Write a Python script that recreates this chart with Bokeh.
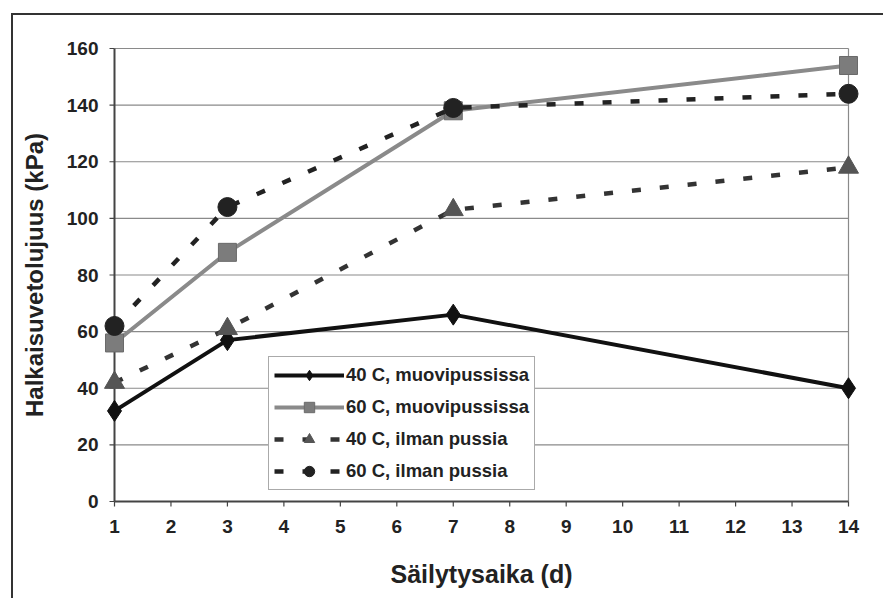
import math
from bokeh.plotting import figure
from bokeh.models import Legend, LegendItem, BoxAnnotation, FixedTicker
from bokeh.embed import file_html
from bokeh.resources import INLINE

# storage time (days) and splitting tensile strength (kPa)
days = [1, 3, 7, 14]
t40_bag = [32, 57, 66, 40]
t60_bag = [56, 88, 138, 154]
t40_nobag = [42, 61, 103, 118]
t60_nobag = [62, 104, 139, 144]

labels = ["40 C, muovipussissa", "60 C, muovipussissa",
          "40 C, ilman pussia", "60 C, ilman pussia"]
x_ticks = list(range(1, 15))
y_ticks = list(range(0, 161, 20))

FONT = "Liberation Sans"
TXT = "#222222"
AXC = "#444444"
GRIDC = "#8a8a8a"
X0, X1 = 1, 14
Y0, Y1 = 0, 160

# the plotting frame is a little larger than the data area so that end
# markers are not cut off; axis lines and tick marks are drawn at x=1 / y=0,
# the Bokeh axes only supply the tick labels and titles
PAD = 12
FRAME_L, FRAME_R, FRAME_T, FRAME_B = 114 - PAD, 848 + PAD, 48 - PAD, 501 + PAD
W, H = 883, 598
xs = (848 - 114) / (X1 - X0)
ys = (501 - 48) / (Y1 - Y0)
TICK = 5

p = figure(width=W, height=H,
           x_range=(X0 - PAD / xs, X1 + PAD / xs),
           y_range=(Y0 - PAD / ys, Y1 + PAD / ys),
           output_backend="svg", toolbar_location=None,
           min_border_left=FRAME_L, min_border_right=W - FRAME_R,
           min_border_top=FRAME_T, min_border_bottom=H - FRAME_B)
p.background_fill_color = "white"
p.border_fill_alpha = 0
# outer chart border (top and left edges) painted behind the canvas
p.styles = {
    "background": ("linear-gradient(#333333, #333333) 11px 13px / 2px 100% no-repeat, "
                   "linear-gradient(#333333, #333333) 11px 13px / 100% 2px no-repeat, "
                   "white"),
}
p.outline_line_color = None
p.xgrid.grid_line_color = None
p.ygrid.grid_line_color = None

for ax in (p.xaxis, p.yaxis):
    ax.axis_line_color = None
    ax.major_tick_line_color = None
    ax.minor_tick_line_color = None
    ax.major_tick_out = 0
    ax.major_tick_in = 0
    ax.major_label_text_font = FONT
    ax.major_label_text_font_style = "bold"
    ax.major_label_text_font_size = "19px"
    ax.major_label_text_color = TXT
    ax.axis_label_text_font = FONT
    ax.axis_label_text_font_style = "bold"
    ax.axis_label_text_color = TXT

p.xaxis.ticker = FixedTicker(ticks=x_ticks)
p.yaxis.ticker = FixedTicker(ticks=y_ticks)
p.xaxis.major_label_standoff = 6
p.yaxis.major_label_standoff = 4
p.xaxis.axis_label = "Säilytysaika (d)"
p.yaxis.axis_label = "Halkaisuvetolujuus (kPa)"
p.xaxis.axis_label_text_font_size = "25px"
p.yaxis.axis_label_text_font_size = "24px"
p.xaxis.axis_label_standoff = 24
p.yaxis.axis_label_standoff = 16

# horizontal gridlines, top edge and right edge of the plot area
grid_y = [t for t in y_ticks if t > Y0]
p.segment(x0=[X0] * len(grid_y), x1=[X1] * len(grid_y), y0=grid_y, y1=grid_y,
          line_color=GRIDC, line_width=1.2)
p.segment(x0=[X1], x1=[X1], y0=[Y0], y1=[Y1], line_color=GRIDC, line_width=1.2)

# axis lines and outward tick marks
p.segment(x0=[X0, X0], x1=[X1, X0], y0=[Y0, Y0], y1=[Y0, Y1],
          line_color=AXC, line_width=2)
p.segment(x0=[X0 - TICK / xs] * len(y_ticks), x1=[X0] * len(y_ticks),
          y0=y_ticks, y1=y_ticks, line_color=AXC, line_width=1.2)
p.segment(x0=x_ticks, x1=x_ticks, y0=[Y0 - TICK / ys] * len(x_ticks),
          y1=[Y0] * len(x_ticks), line_color=AXC, line_width=1.2)

# series
r1l = p.line(days, t40_bag, line_color="#111111", line_width=4)
r1m = p.scatter(days, t40_bag, marker="diamond", size=21,
                fill_color="#111111", line_color="#111111")

r2l = p.line(days, t60_bag, line_color="#8a8a8a", line_width=4)
r2m = p.scatter(days, t60_bag, marker="square", size=18,
                fill_color="#7c7c7c", line_color="#6a6a6a")

r3l = p.line(days, t40_nobag, line_color="#333333", line_width=4.5,
             line_dash="9 19")
r3m = p.scatter(days, t40_nobag, marker="triangle", size=20,
                fill_color="#555555", line_color="#555555")

r4l = p.line(days, t60_nobag, line_color="#222222", line_width=4.5,
             line_dash="9 19")
r4m = p.scatter(days, t60_nobag, marker="circle", size=19,
                fill_color="#222222", line_color="#222222")

legend = Legend(items=[
    LegendItem(label=labels[0], renderers=[r1l, r1m]),
    LegendItem(label=labels[1], renderers=[r2l, r2m]),
    LegendItem(label=labels[2], renderers=[r3l, r3m]),
    LegendItem(label=labels[3], renderers=[r4l, r4m]),
], location=(268 - FRAME_L, FRAME_B - 490))
legend.label_text_font = FONT
legend.label_text_font_style = "bold"
legend.label_text_font_size = "18.5px"
legend.label_text_color = TXT
legend.glyph_width = 70
legend.glyph_height = 26
legend.label_standoff = 2
legend.spacing = 6
legend.padding = 5
legend.margin = 0
legend.border_line_color = "#555555"
legend.border_line_width = 1.2
legend.background_fill_color = "white"
legend.background_fill_alpha = 1
p.add_layout(legend)

open("out.html", "w").write(file_html(p, INLINE))
